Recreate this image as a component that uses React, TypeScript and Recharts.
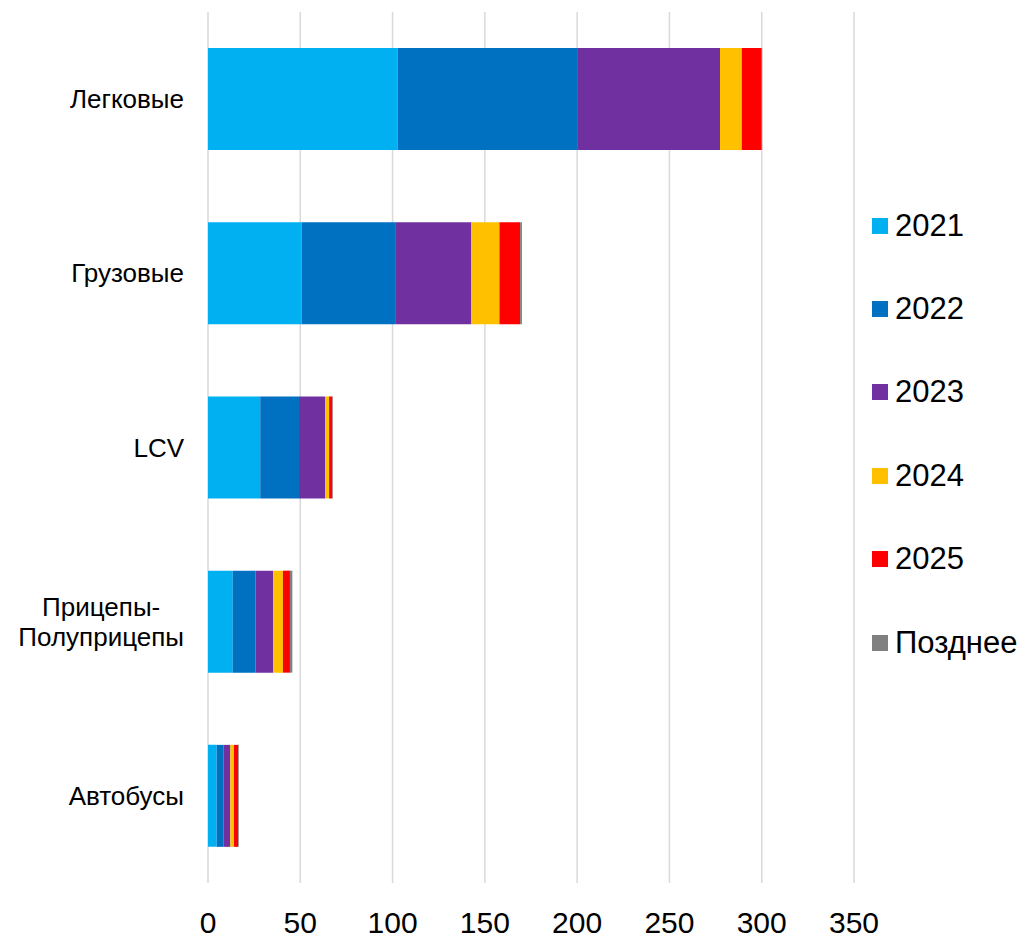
import { Bar, BarChart, CartesianGrid, XAxis, YAxis } from "recharts";

const categories = ["Легковые", "Грузовые", "LCV", "Прицепы-\nПолуприцепы", "Автобусы"];
const y2021 = [102.8, 50.7, 28.3, 13.4, 4.7];
const y2022 = [97.6, 50.7, 21.0, 12.3, 3.8];
const y2023 = [77.0, 41.3, 14.1, 9.6, 3.6];
const y2024 = [11.8, 15.2, 2.2, 5.3, 2.0];
const y2025 = [10.8, 11.2, 1.8, 3.8, 2.2];
const later = [0.3, 1.0, 0.3, 1.3, 0.4];
const xTicks = [0, 50, 100, 150, 200, 250, 300, 350];

const series = [
  { key: "2021", color: "#00B0F0", values: y2021 },
  { key: "2022", color: "#0070C0", values: y2022 },
  { key: "2023", color: "#7030A0", values: y2023 },
  { key: "2024", color: "#FFC000", values: y2024 },
  { key: "2025", color: "#FF0000", values: y2025 },
  { key: "Позднее", color: "#808080", values: later },
];

const data = categories.map((name, i) => {
  const row: Record<string, string | number> = { name };
  series.forEach((s) => (row[s.key] = s.values[i]));
  return row;
});

const FONT = "'Liberation Sans', Arial, sans-serif";

function textWidth(t: string, size: number) {
  const ctx = document.createElement("canvas").getContext("2d");
  if (!ctx) return t.length * size * 0.55;
  ctx.font = `${size}px ${FONT}`;
  return ctx.measureText(t).width;
}

function CategoryTick({ x, y, payload }: any) {
  const lines = String(payload.value).split("\n");
  const lh = 30;
  const w = Math.max(...lines.map((l) => textWidth(l, 26)));
  const cx = x - w / 2;
  return (
    <text x={cx} y={y} textAnchor="middle" fontSize={26} fontFamily={FONT} fill="#000">
      {lines.map((l, i) => (
        <tspan key={i} x={cx} y={y + (i - (lines.length - 1) / 2) * lh} dominantBaseline="central">
          {l}
        </tspan>
      ))}
    </text>
  );
}

function ValueTick({ x, y, payload }: any) {
  return (
    <text x={x} y={y + 39} textAnchor="middle" dominantBaseline="central" fontSize={30} fontFamily={FONT} fill="#000">
      {payload.value}
    </text>
  );
}

function LegendBox() {
  return (
    <div style={{ position: "absolute", left: 864, top: 176, fontFamily: FONT, fontSize: 31, color: "#000" }}>
      {series.map((s) => (
        <div key={s.key} style={{ height: 83.4, display: "flex", alignItems: "center" }}>
          <span style={{ width: 16, height: 16, background: s.color, display: "inline-block", marginRight: 7 }} />
          <span>{s.key}</span>
        </div>
      ))}
    </div>
  );
}

export default function App() {
  return (
    <div style={{ position: "relative", width: 1017, height: 929, background: "#fff" }}>
      <BarChart
        width={1017}
        height={929}
        data={data}
        layout="vertical"
        margin={{ top: 4, right: 171, bottom: 0, left: 0 }}
        barCategoryGap="20.7%"
        style={{ overflow: "visible" }}
      >
        <CartesianGrid stroke="#d9d9d9" strokeWidth={1.5} horizontal={false} vertical={true} />
        <XAxis
          type="number"
          domain={[0, 350]}
          ticks={xTicks}
          axisLine={false}
          tickLine={false}
          tickSize={0}
          tickMargin={0}
          height={54}
          tick={<ValueTick />}
          interval={0}
        />
        <YAxis
          type="category"
          dataKey="name"
          width={200}
          axisLine={false}
          tickLine={false}
          tickSize={0}
          tickMargin={24}
          tick={<CategoryTick />}
          interval={0}
        />
        {series.map((s) => (
          <Bar key={s.key} dataKey={s.key} stackId="a" fill={s.color} isAnimationActive={false} />
        ))}
      </BarChart>
      <LegendBox />
    </div>
  );
}
